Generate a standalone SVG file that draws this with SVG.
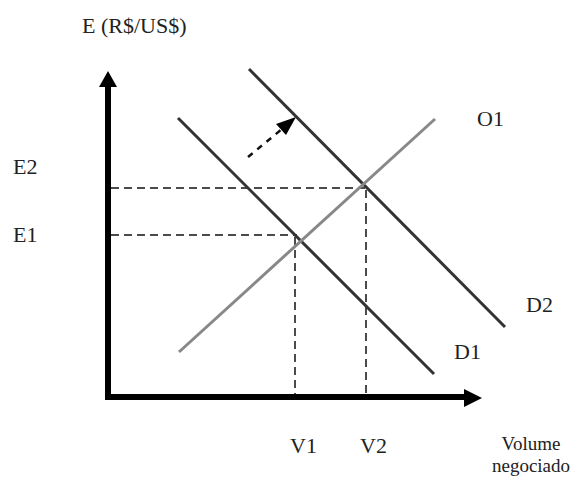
<svg xmlns="http://www.w3.org/2000/svg" width="580" height="485" viewBox="0 0 580 485">
<style>
text{font-family:"Liberation Serif","Times New Roman",serif;font-size:22px;fill:#222}
text.small{font-size:19px}
.axis{stroke:#000;stroke-width:6;fill:none}
.dem{stroke:#333;stroke-width:3;fill:none}
.sup{stroke:#888;stroke-width:3;fill:none}
.guide{stroke:#111;stroke-width:1.5;stroke-dasharray:8 5;fill:none}
.shift{stroke:#111;stroke-width:2.5;stroke-dasharray:6 6;fill:none}
</style>
<rect width="580" height="485" fill="#fff"/>
<g id="axes">
<line class="axis" x1="108" y1="400" x2="108" y2="86"/>
<polygon points="108,71 99,87 117,87" fill="#000"/>
<line class="axis" x1="105" y1="397" x2="464" y2="397"/>
<polygon points="482,398 464,389 464,407" fill="#000"/>
</g>
<g id="connectors">
<line class="guide" x1="111" y1="188" x2="365" y2="188"/>
<line class="guide" x1="111" y1="235" x2="297" y2="235"/>
<line class="guide" x1="295" y1="237" x2="295" y2="394"/>
<line class="guide" x1="366" y1="190" x2="366" y2="394"/>
<line class="shift" x1="248" y1="157" x2="282" y2="129"/>
<polygon points="296,117 276,124 286,135" fill="#000"/>
</g>
<g id="D1"><line class="dem" x1="178" y1="118" x2="434" y2="374"/><text x="454" y="359">D1</text></g>
<g id="D2"><line class="dem" x1="249" y1="69" x2="505" y2="327"/><text x="526" y="312">D2</text></g>
<g id="O1"><line class="sup" x1="179" y1="352" x2="435" y2="119"/><text x="477" y="126">O1</text></g>
<g id="labels">
<text x="82" y="33">E (R$/US$)</text>
<text x="13" y="174">E2</text>
<text x="13" y="242">E1</text>
<text x="290" y="453">V1</text>
<text x="360" y="453">V2</text>
<text class="small" x="531" y="450" text-anchor="middle">Volume</text>
<text class="small" x="531" y="472" text-anchor="middle">negociado</text>
</g>
</svg>
